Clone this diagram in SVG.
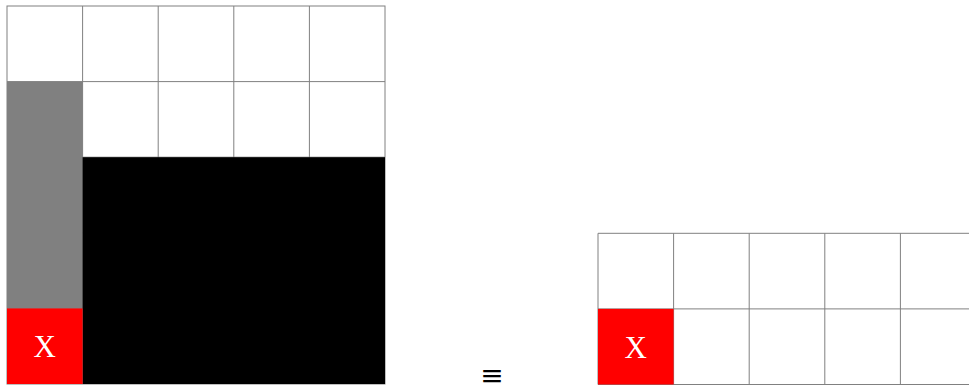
<svg xmlns="http://www.w3.org/2000/svg" width="969" height="386" viewBox="0 0 969 386">
<style>
.grid{fill:none;stroke:#808080;stroke-width:1}
.lbl{font-family:"Liberation Serif","DejaVu Serif",serif;font-size:31px;fill:#ffffff;text-anchor:middle}
.eq{font-family:"DejaVu Serif","Liberation Serif",serif;font-size:28px;fill:#000000;text-anchor:middle}
</style>
<rect width="969" height="386" fill="#ffffff"/>
<g id="left-grid">
<g class="grid">
<rect x="7" y="6" width="378" height="378"/>
<path d="M82.6 6V384M158.2 6V384M233.8 6V384M309.4 6V384M7 81.6H385M7 157.2H385M7 232.8H385M7 308.4H385"/>
</g>
<rect id="gray-block" x="7" y="81.6" width="75.6" height="226.8" fill="#808080"/>
<rect id="black-block" x="82.6" y="157.2" width="302.4" height="226.8" fill="#000000"/>
<g id="left-x">
<rect x="7" y="308.4" width="75.6" height="75.6" fill="#ff0000"/>
<text class="lbl" x="44.8" y="357">X</text>
</g>
</g>
<g id="equiv">
<text class="eq" x="492" y="385">≡</text>
</g>
<g id="right-grid">
<g class="grid">
<path d="M598 233.3H976M598 308.9H976M598 384.5H976M598 233.3V384.5M673.6 233.3V384.5M749.2 233.3V384.5M824.8 233.3V384.5M900.4 233.3V384.5"/>
</g>
<g id="right-x">
<rect x="598" y="308.9" width="75.6" height="75.6" fill="#ff0000"/>
<text class="lbl" x="635.8" y="357.5">X</text>
</g>
</g>
<g id="connectors"/>
</svg>
